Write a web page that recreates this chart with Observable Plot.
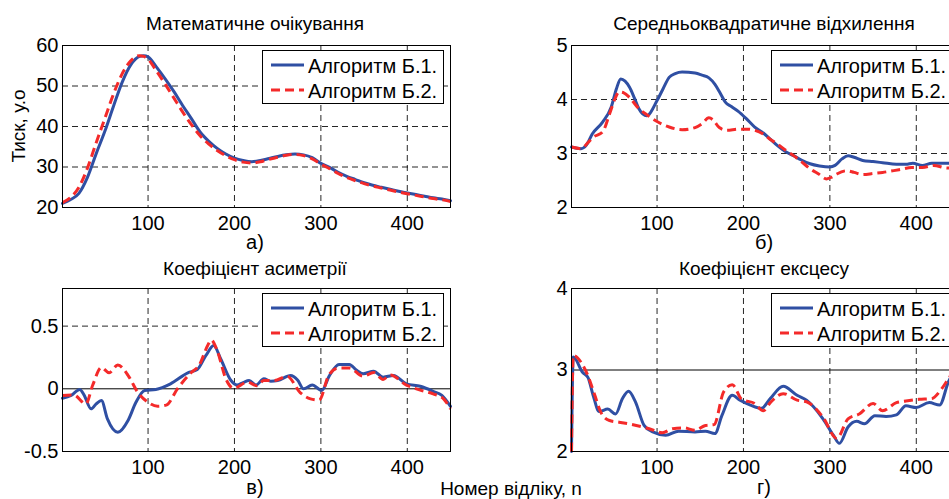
<!DOCTYPE html>
<html>
<head>
<meta charset="utf-8">
<script src="https://cdn.jsdelivr.net/npm/d3@7"></script>
<script src="https://cdn.jsdelivr.net/npm/@observablehq/plot@0.6"></script>
<style>
  html, body { margin: 0; padding: 0; background: #fff; overflow: hidden; }
  #root { position: relative; width: 949px; height: 499px; overflow: hidden; font-family: 'Liberation Sans', Arial, sans-serif; color: #000; }
  .txt { position: absolute; font-size: 20px; line-height: 1; white-space: nowrap; transform: translateX(-50%); }
  .legend { position: absolute; width: 180px; height: 52px; border: 1px solid #000; background: #fff; font-size: 20px; line-height: 1; }
  .legend .row { position: absolute; left: 0; height: 20px; }
  .legend svg { position: absolute; left: 8px; top: 0; }
  .legend span { position: absolute; left: 45px; top: 1px; white-space: nowrap; }
  svg.plot { overflow: visible; }
</style>
</head>
<body>
<div id="root"></div>
<script>
// ---------- data ----------
const xTicks = [100, 200, 300, 400];
const seriesNames = ["Алгоритм Б.1.", "Алгоритм Б.2."];
const panelTitles = ["Математичне очікування", "Середньоквадратичне відхилення", "Коефіцієнт асиметрії", "Коефіцієнт ексцесу"];
const panelLetters = ["а)", "б)", "в)", "г)"];
const yLabel = "Тиск, у.о";
const xLabel = "Номер відліку, n";

// (а) mean
const nA = [1,10,20,30,40,50,60,70,80,90,95,100,110,120,130,140,150,160,170,180,190,200,210,220,230,240,250,260,270,280,290,300,310,320,330,340,350,360,370,380,390,400,410,420,430,440,450];
const meanB1 = [21.0,21.9,23.5,27.5,33.3,38.8,45.0,50.9,55.2,57.3,57.5,57.2,54.6,51.7,48.6,45.2,42.0,38.7,36.4,34.6,33.2,32.2,31.6,31.3,31.6,32.1,32.6,33.0,33.2,33.0,32.3,30.9,29.9,28.7,27.7,26.9,26.1,25.5,25.0,24.5,24.0,23.6,23.2,22.8,22.4,22.1,21.7];
const meanB2 = [21.2,22.4,25.0,29.8,36.0,42.0,48.0,53.0,56.2,57.5,57.3,56.6,53.6,50.4,47.0,43.6,40.5,37.8,35.7,34.1,32.8,31.8,31.2,31.0,31.3,31.9,32.4,32.9,33.1,32.8,32.0,30.7,29.6,28.4,27.4,26.6,25.9,25.3,24.8,24.3,23.8,23.4,23.0,22.6,22.2,21.9,21.5];
const yTicksA = [20, 30, 40, 50, 60];

// (б) standard deviation
const nB1 = [1,12,18,25,37,47,53,58,63,68,74,79,88,100,107,114,121,129,144,152,160,167,173,179,186,194,203,213,223,230,239,248,258,267,277,288,300,306,314,321,328,338,350,361,377,388,396,407,418,436,450];
const sdB1 = [3.12,3.09,3.15,3.36,3.58,3.86,4.20,4.38,4.34,4.23,4.02,3.83,3.70,3.98,4.20,4.41,4.48,4.51,4.49,4.45,4.40,4.28,4.12,3.95,3.87,3.78,3.65,3.49,3.38,3.28,3.15,3.04,2.96,2.88,2.81,2.77,2.75,2.78,2.90,2.96,2.93,2.87,2.85,2.83,2.80,2.80,2.82,2.78,2.82,2.82,2.82];
const nB2 = [1,12,20,26,37,45,51,56,62,68,79,88,98,114,129,144,152,160,165,172,181,194,205,213,223,232,239,248,258,267,277,287,296,302,308,319,328,338,350,361,380,395,407,420,436,450];
const sdB2 = [3.12,3.09,3.20,3.30,3.40,3.73,4.00,4.14,4.12,4.04,3.83,3.72,3.61,3.49,3.44,3.48,3.55,3.66,3.62,3.48,3.43,3.45,3.45,3.43,3.36,3.25,3.18,3.07,2.96,2.85,2.72,2.62,2.53,2.56,2.62,2.68,2.65,2.61,2.63,2.65,2.70,2.74,2.74,2.78,2.73,2.78];
const yTicksB = [2, 3, 4, 5];

// (в) skewness
const nC1 = [1,11,21,26,34,40,46,53,65,77,86,96,109,126,146,157,167,176,184,196,203,210,217,225,234,242,250,265,273,280,290,301,310,321,333,341,349,361,372,384,399,415,430,440,450];
const skB1 = [-0.075,-0.053,-0.005,-0.05,-0.16,-0.12,-0.093,-0.24,-0.346,-0.25,-0.107,-0.013,-0.005,0.04,0.128,0.154,0.266,0.345,0.24,0.066,0.03,0.05,0.066,0.03,0.08,0.06,0.066,0.106,0.07,0.0,0.03,-0.013,0.106,0.194,0.194,0.15,0.12,0.14,0.093,0.106,0.04,0.02,-0.02,-0.053,-0.14];
const nC2 = [1,14,28,36,46,55,65,77,88,100,111,121,134,150,159,169,173,180,190,199,215,226,234,246,261,276,288,298,309,320,333,349,361,372,380,399,415,430,442,450];
const skB2 = [-0.053,-0.05,-0.12,0.03,0.17,0.128,0.19,0.106,-0.027,-0.107,-0.139,-0.13,0.0,0.13,0.186,0.345,0.39,0.306,0.08,0.005,0.053,0.025,0.066,0.066,0.1,-0.03,-0.08,-0.09,0.106,0.165,0.165,0.1,0.13,0.075,0.11,0.03,-0.01,-0.04,-0.08,-0.16];
const yTicksC = [-0.5, 0, 0.5];

// (г) kurtosis
const nD1 = [1,3,14,20,26,33,43,52,60,67,75,85,95,110,125,144,156,167,175,187,196,208,221,231,246,262,273,292,304,311,321,331,340,352,365,377,388,400,415,427,437,450];
const kuB1 = [2.0,3.16,2.97,2.91,2.69,2.49,2.52,2.46,2.65,2.74,2.61,2.32,2.24,2.20,2.25,2.24,2.25,2.22,2.44,2.69,2.63,2.57,2.53,2.65,2.80,2.69,2.63,2.40,2.20,2.10,2.30,2.37,2.34,2.44,2.43,2.45,2.56,2.54,2.60,2.57,2.85,3.1];
const nD2 = [1,3,14,20,28,35,45,56,76,91,106,118,131,144,156,166,177,187,198,213,223,231,246,262,273,292,308,321,334,350,361,377,388,403,418,428,437,450];
const kuB2 = [2.0,3.18,3.06,2.93,2.69,2.48,2.38,2.36,2.32,2.28,2.23,2.28,2.29,2.26,2.32,2.33,2.73,2.82,2.64,2.59,2.50,2.60,2.71,2.63,2.61,2.42,2.16,2.40,2.46,2.59,2.50,2.60,2.62,2.64,2.65,2.75,2.89,3.1];
const yTicksD = [2, 3, 4];

// ---------- drawing ----------
const BLUE = "#2f4fa3";
const RED = "#f42a2a";
const FONT = "'Liberation Sans', Arial, sans-serif";
const root = document.getElementById("root");

const toRows = (ns, vs) => ns.map((n, i) => ({n, v: vs[i]}));
const fmt = d => String(d);

function panel({left, top, marginBottom, yDomain, yTicks, gridY, solidY, b1, b2}) {
  const gridStyle = {stroke: "#000", strokeOpacity: 0.85, strokeDasharray: "6,4", strokeWidth: 1};
  const svg = Plot.plot({
    width: 470, height: 250,
    marginLeft: 62, marginTop: 45, marginRight: 20, marginBottom,
    x: {domain: [1, 450]},
    y: {domain: yDomain},
    style: {fontFamily: FONT, fontSize: "20px", color: "#000", background: "transparent", overflow: "visible"},
    marks: [
      Plot.gridX(xTicks, gridStyle),
      Plot.gridY(gridY, gridStyle),
      solidY != null ? Plot.ruleY([solidY], {stroke: "#000", strokeWidth: 1}) : null,
      Plot.line(b1, {x: "n", y: "v", stroke: BLUE, strokeWidth: 3, curve: "monotone-x"}),
      Plot.line(b2, {x: "n", y: "v", stroke: RED, strokeWidth: 3, strokeDasharray: "9,5", strokeLinecap: "butt", curve: "monotone-x"}),
      Plot.frame({stroke: "#000", strokeWidth: 1}),
      Plot.axisX(xTicks, {tickSize: 0, tickPadding: 8, label: null, tickFormat: fmt}),
      Plot.axisY(yTicks, {tickSize: 0, tickPadding: 4, label: null, tickFormat: fmt})
    ]
  });
  svg.style.position = "absolute";
  svg.style.left = left + "px";
  svg.style.top = top + "px";
  svg.style.maxWidth = "none";
  root.appendChild(svg);
}

function text(str, x, y, extra) {
  const d = document.createElement("div");
  d.className = "txt";
  d.textContent = str;
  d.style.left = x + "px";
  d.style.top = y + "px";
  if (extra) Object.assign(d.style, extra);
  root.appendChild(d);
}

function legend(x, y) {
  const box = document.createElement("div");
  box.className = "legend";
  box.style.left = x + "px";
  box.style.top = y + "px";
  [[BLUE, null, 14], [RED, "9,5", 39]].forEach(([c, dash, cy], i) => {
    const row = document.createElement("div");
    row.className = "row";
    row.style.top = (cy - 10) + "px";
    row.innerHTML = `<svg width="34" height="20"><line x1="0" x2="33" y1="10" y2="10" stroke="${c}" stroke-width="3" ${dash ? `stroke-dasharray="${dash}"` : ""}/></svg><span>${seriesNames[i]}</span>`;
    box.appendChild(row);
  });
  root.appendChild(box);
}

panel({left: 0, top: 0, marginBottom: 43, yDomain: [20, 60], yTicks: yTicksA, gridY: yTicksA, solidY: null, b1: toRows(nA, meanB1), b2: toRows(nA, meanB2)});
panel({left: 509, top: 0, marginBottom: 43, yDomain: [2, 5], yTicks: yTicksB, gridY: yTicksB, solidY: null, b1: toRows(nB1, sdB1), b2: toRows(nB2, sdB2)});
panel({left: 0, top: 243, marginBottom: 42, yDomain: [-0.5, 0.8], yTicks: yTicksC, gridY: [0.5], solidY: 0, b1: toRows(nC1, skB1), b2: toRows(nC2, skB2)});
panel({left: 509, top: 243, marginBottom: 42, yDomain: [2, 4], yTicks: yTicksD, gridY: [], solidY: 3, b1: toRows(nD1, kuB1), b2: toRows(nD2, kuB2)});

legend(262, 50);
legend(771, 50);
legend(262, 293);
legend(771, 293);

text(panelTitles[0], 255, 14, {fontSize: "19px"});
text(panelTitles[1], 764, 14, {fontSize: "19px"});
text(panelTitles[2], 255, 259, {fontSize: "19px"});
text(panelTitles[3], 764, 259, {fontSize: "19px"});
text(panelLetters[0], 255, 232);
text(panelLetters[1], 764, 232);
text(panelLetters[2], 255, 477);
text(panelLetters[3], 764, 477);
text(xLabel, 511, 479, {fontSize: "19px"});
text(yLabel, 18, 126, {transform: "translate(-50%, -50%) rotate(-90deg)", fontSize: "19px"});
</script>
</body>
</html>
